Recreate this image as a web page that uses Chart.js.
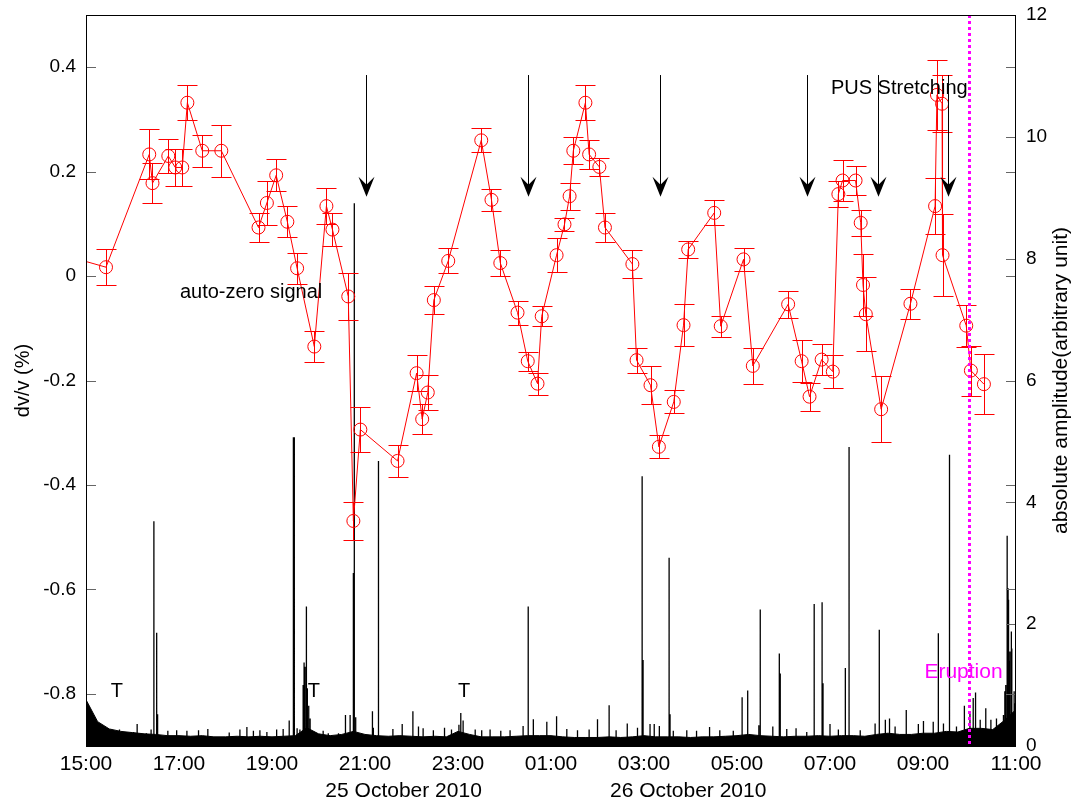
<!DOCTYPE html>
<html>
<head>
<meta charset="utf-8">
<script src="https://cdn.jsdelivr.net/npm/chart.js@4/dist/chart.umd.min.js"></script>
<style>
html, body { margin: 0; padding: 0; background: #fff; }
</style>
</head>
<body>
<canvas id="myChart" width="1080" height="803"></canvas>
<script>
// hours since 15:00 on 25 October 2010
var xTickValues = [0, 2, 4, 6, 8, 10, 12, 14, 16, 18, 20];
var xTickLabels = ['15:00', '17:00', '19:00', '21:00', '23:00', '01:00', '03:00', '05:00', '07:00', '09:00', '11:00'];
var dvTicks = [-0.8, -0.6, -0.4, -0.2, 0, 0.2, 0.4];
var ampTicks = [0, 2, 4, 6, 8, 10, 12];
var dateLabels = ['25 October 2010', '26 October 2010'];

// dv/v measurements (%)
var dvHours = [-0.40, 0.43, 1.36, 1.43, 1.77, 1.92, 2.07, 2.18, 2.50, 2.91, 3.71, 3.89, 4.09, 4.33, 4.54, 4.91,
    5.17, 5.30, 5.64, 5.75, 5.90, 6.70, 7.11, 7.23, 7.35, 7.48, 7.79, 8.50, 8.72, 8.91, 9.28, 9.50, 9.71, 9.80,
    10.12, 10.29, 10.40, 10.48, 10.74, 10.82, 11.04, 11.16, 11.75, 11.84, 12.14, 12.32, 12.64, 12.85, 12.95,
    13.51, 13.65, 14.14, 14.34, 15.10, 15.39, 15.56, 15.82, 16.06, 16.18, 16.27, 16.55, 16.66, 16.71, 16.77,
    17.10, 17.73, 18.26, 18.30, 18.41, 18.42, 18.93, 19.03, 19.31];
var dvValues = [0.038, 0.017, 0.233, 0.178, 0.230, 0.208, 0.208, 0.332, 0.240, 0.240, 0.093, 0.140, 0.193, 0.104, 0.015, -0.135,
    0.134, 0.089, -0.039, -0.469, -0.294, -0.354, -0.186, -0.274, -0.223, -0.046, 0.029, 0.260, 0.146, 0.025, -0.070, -0.163, -0.206, -0.077,
    0.040, 0.099, 0.153, 0.240, 0.332, 0.233, 0.209, 0.093, 0.023, -0.161, -0.209, -0.327, -0.241, -0.094, 0.051,
    0.121, -0.096, 0.032, -0.172, -0.054, -0.163, -0.231, -0.160, -0.183, 0.157, 0.183, 0.183, 0.102, -0.017, -0.073,
    -0.255, -0.053, 0.134, 0.347, 0.330, 0.040, -0.095, -0.181, -0.207];
var dvErrors = [0.030, 0.034, 0.048, 0.039, 0.032, 0.036, 0.036, 0.033, 0.031, 0.050, 0.027, 0.042, 0.031, 0.030, 0.030, 0.029,
    0.034, 0.031, 0.045, 0.037, 0.043, 0.031, 0.034, 0.029, 0.033, 0.027, 0.024, 0.023, 0.021, 0.024, 0.023, 0.018, 0.021, 0.019,
    0.033, 0.013, 0.026, 0.026, 0.033, 0.028, 0.018, 0.028, 0.026, 0.024, 0.036, 0.022, 0.022, 0.040, 0.017,
    0.024, 0.020, 0.022, 0.034, 0.026, 0.040, 0.027, 0.030, 0.032, 0.025, 0.040, 0.027, 0.025, 0.060, 0.071,
    0.063, 0.029, 0.054, 0.067, 0.055, 0.078, 0.040, 0.048, 0.058];

// absolute amplitude: noise floor every 15 minutes
var ampFloorHours = [0, 0.25, 0.5, 0.75, 1, 1.25, 1.5, 1.75, 2, 2.25, 2.5, 2.75, 3, 3.25, 3.5, 3.75, 4, 4.25, 4.5, 4.75,
    5, 5.25, 5.5, 5.75, 6, 6.25, 6.5, 6.75, 7, 7.25, 7.5, 7.75, 8, 8.25, 8.5, 8.75, 9, 9.25, 9.5, 9.75,
    10, 10.25, 10.5, 10.75, 11, 11.25, 11.5, 11.75, 12, 12.25, 12.5, 12.75, 13, 13.25, 13.5, 13.75, 14, 14.25, 14.5, 14.75,
    15, 15.25, 15.5, 15.75, 16, 16.25, 16.5, 16.75, 17, 17.25, 17.5, 17.75, 18, 18.25, 18.5, 18.75, 19, 19.25, 19.5, 19.75, 20];
var ampFloor = [0.76, 0.40, 0.28, 0.24, 0.22, 0.20, 0.19, 0.17, 0.17, 0.16, 0.17, 0.15, 0.15, 0.16, 0.15, 0.16, 0.15, 0.16, 0.17, 0.30,
    0.20, 0.17, 0.19, 0.24, 0.19, 0.17, 0.16, 0.17, 0.16, 0.15, 0.16, 0.15, 0.24, 0.19, 0.15, 0.15, 0.15, 0.16, 0.17, 0.17,
    0.17, 0.15, 0.14, 0.14, 0.14, 0.15, 0.14, 0.15, 0.17, 0.15, 0.15, 0.15, 0.14, 0.15, 0.15, 0.16, 0.17, 0.19, 0.17, 0.16,
    0.15, 0.16, 0.16, 0.17, 0.16, 0.17, 0.17, 0.16, 0.19, 0.21, 0.19, 0.19, 0.21, 0.21, 0.24, 0.23, 0.29, 0.29, 0.27, 0.42, 0.60];

// large amplitude spikes
var spikeHours = [1.10, 1.40, 1.46, 1.52, 1.54, 4.37, 4.46, 4.48, 4.54, 4.67, 4.69, 4.71, 4.74, 4.76, 4.79, 4.82,
    5.58, 5.68, 5.75, 5.77, 5.80, 6.16, 6.29, 6.80, 7.03, 8.02, 8.06, 8.11, 9.40, 9.51, 9.62, 9.91, 10.12,
    11.00, 11.25, 11.64, 11.96, 11.98, 12.22, 12.54, 12.56, 13.41, 14.11, 14.23, 14.50, 14.77, 14.91, 14.93,
    15.27, 15.66, 15.83, 15.85, 16.33, 16.41, 17.06, 17.19, 17.28, 17.64, 18.01, 18.33, 18.57, 18.89, 19.08, 19.13,
    19.35, 19.46, 19.73, 19.76, 19.78, 19.81, 19.83, 19.84, 19.86, 19.87, 19.90, 19.91, 19.94, 19.96, 19.98];
var spikeAmps = [0.36, 0.27, 3.69, 1.86, 0.52, 0.42, 5.07, 5.07, 0.29, 1.00, 1.37, 1.30, 2.29, 0.95, 0.66, 0.45,
    0.51, 0.51, 2.84, 8.91, 0.47, 0.57, 4.68, 0.36, 0.57, 0.35, 0.54, 0.42, 0.33, 2.29, 0.44, 0.40, 0.49,
    0.44, 0.67, 0.37, 4.43, 1.41, 0.36, 3.09, 0.52, 0.31, 0.80, 0.91, 2.24, 0.32, 1.52, 1.19,
    0.29, 2.33, 2.36, 1.03, 1.28, 4.91, 1.91, 0.43, 0.45, 0.59, 0.41, 1.85, 4.78, 0.66, 0.79, 0.88,
    0.62, 0.43, 0.51, 0.90, 1.00, 3.45, 2.59, 2.40, 1.40, 1.55, 1.88, 1.60, 0.54, 0.90, 0.70];

// small noise spikes
var noiseHours = [0.59, 0.72, 0.89, 1.02, 1.30, 1.76, 1.95, 2.17, 2.42, 2.62, 3.08, 3.31, 3.46, 3.60, 3.74, 3.89, 4.10, 4.24, 4.60,
    5.10, 5.21, 5.43, 6.18, 6.60, 7.15, 7.25, 7.47, 7.71, 7.86, 8.37, 8.51, 8.69, 8.92, 9.12,
    10.34, 10.57, 10.82, 11.40, 11.86, 12.13, 12.33, 12.63, 12.92, 13.13, 13.63, 13.92, 14.47, 15.07, 15.50,
    16.00, 16.18, 16.65, 16.97, 17.40, 17.90, 18.22, 18.44, 18.72, 19.01, 19.23, 19.58];
var noiseAmps = [0.26, 0.27, 0.21, 0.23, 0.21, 0.25, 0.26, 0.25, 0.26, 0.28, 0.22, 0.27, 0.31, 0.25, 0.26, 0.23, 0.27, 0.28, 0.27,
    0.25, 0.21, 0.21, 0.30, 0.28, 0.32, 0.29, 0.26, 0.30, 0.27, 0.27, 0.26, 0.27, 0.25, 0.26,
    0.28, 0.26, 0.27, 0.26, 0.30, 0.36, 0.33, 0.25, 0.26, 0.25, 0.26, 0.25, 0.34, 0.28, 0.23,
    0.36, 0.27, 0.26, 0.37, 0.32, 0.36, 0.40, 0.37, 0.32, 0.55, 0.43, 0.45];

// "PUS Stretching" arrows
var arrowHours = [6.02, 9.51, 12.35, 15.51, 17.03, 18.53];
var eruptionHour = 19.0;

// annotation layout (data coordinates)
var arrowTopDv = 0.385, arrowTipDv = 0.152;
var notes = [
    { text: 'PUS Stretching', h: 16.02, dv: 0.36, size: 20, color: '#000' },
    { text: 'auto-zero signal', h: 2.02, dv: -0.031, size: 20, color: '#000' }
];
var ampNotes = [
    { text: 'T', h: 0.53, amp: 0.90, size: 20, color: '#000' },
    { text: 'T', h: 4.77, amp: 0.90, size: 20, color: '#000' },
    { text: 'T', h: 8.00, amp: 0.90, size: 20, color: '#000' },
    { text: 'Eruption', h: 18.03, amp: 1.21, size: 21, color: '#ff00ff' }
];
var dateHours = [6.83, 12.95];

var FONT = '"Liberation Sans", Arial, sans-serif';

function points(xs, ys) {
    var out = [];
    for (var i = 0; i < xs.length; i++) out.push({ x: xs[i], y: ys[i] });
    return out;
}

// each spike is a vertical stroke from zero, separated by gaps
function spikeSegments(hours, amps) {
    var out = [];
    for (var i = 0; i < hours.length; i++) {
        out.push({ x: hours[i], y: 0 });
        out.push({ x: hours[i], y: amps[i] });
        out.push({ x: hours[i], y: null });
    }
    return out;
}

function fixedTicks(list) {
    return function (axis) {
        axis.ticks = list.map(function (v) { return { value: v }; });
    };
}

function noPadding(s) {
    s.paddingTop = 0; s.paddingBottom = 0; s.paddingLeft = 0; s.paddingRight = 0;
}

// error bars, arrows, eruption line
var extrasPlugin = {
    id: 'extras',
    afterDatasetsDraw: function (chart) {
        var ctx = chart.ctx, a = chart.chartArea;
        var xs = chart.scales.x, ys = chart.scales.y;
        ctx.save();
        ctx.beginPath();
        ctx.rect(a.left, a.top, a.right - a.left, a.bottom - a.top);
        ctx.clip();

        ctx.strokeStyle = '#ff0000';
        ctx.lineWidth = 1;
        for (var i = 0; i < dvHours.length; i++) {
            var x = Math.round(xs.getPixelForValue(dvHours[i])) + 0.5;
            var y1 = Math.round(ys.getPixelForValue(dvValues[i] + dvErrors[i])) + 0.5;
            var y2 = Math.round(ys.getPixelForValue(dvValues[i] - dvErrors[i])) + 0.5;
            ctx.beginPath();
            ctx.moveTo(x, y1); ctx.lineTo(x, y2);
            ctx.moveTo(x - 10, y1); ctx.lineTo(x + 10, y1);
            ctx.moveTo(x - 10, y2); ctx.lineTo(x + 10, y2);
            ctx.stroke();
        }

        // arrows
        ctx.strokeStyle = '#000';
        ctx.fillStyle = '#000';
        for (var j = 0; j < arrowHours.length; j++) {
            var ax = Math.round(xs.getPixelForValue(arrowHours[j])) + 0.5;
            var top = ys.getPixelForValue(arrowTopDv);
            var tip = ys.getPixelForValue(arrowTipDv);
            ctx.beginPath();
            ctx.moveTo(ax, top); ctx.lineTo(ax, tip - 6);
            ctx.stroke();
            ctx.beginPath();
            ctx.moveTo(ax, tip);
            ctx.lineTo(ax - 8, tip - 20);
            ctx.lineTo(ax, tip - 12);
            ctx.lineTo(ax + 8, tip - 20);
            ctx.closePath();
            ctx.fill();
        }

        // eruption
        var ex = xs.getPixelForValue(eruptionHour);
        ctx.strokeStyle = '#ff00ff';
        ctx.lineWidth = 3;
        ctx.setLineDash([3, 3]);
        ctx.beginPath();
        ctx.moveTo(ex, a.top); ctx.lineTo(ex, a.bottom);
        ctx.stroke();
        ctx.restore();
    },
    afterDraw: function (chart) {
        var ctx = chart.ctx, a = chart.chartArea;
        var xs = chart.scales.x, ys = chart.scales.y, y2s = chart.scales.y2;
        ctx.save();

        // inward ticks
        ctx.strokeStyle = '#666';
        ctx.lineWidth = 1;
        dvTicks.forEach(function (v) {
            var y = Math.round(ys.getPixelForValue(v)) + 0.5;
            ctx.beginPath();
            ctx.moveTo(a.left, y); ctx.lineTo(a.left + 10, y);
            ctx.moveTo(a.right, y); ctx.lineTo(a.right - 10, y);
            ctx.stroke();
        });
        ampTicks.forEach(function (v) {
            var y = Math.round(y2s.getPixelForValue(v)) + 0.5;
            ctx.beginPath();
            ctx.moveTo(a.right, y); ctx.lineTo(a.right - 10, y);
            ctx.stroke();
        });

        // box
        ctx.strokeStyle = '#000';
        ctx.strokeRect(a.left + 0.5, a.top + 0.5, a.right - a.left - 1, a.bottom - a.top);

        // notes
        ctx.textBaseline = 'middle';
        ctx.textAlign = 'left';
        notes.forEach(function (n) {
            ctx.font = n.size + 'px ' + FONT;
            ctx.fillStyle = n.color;
            ctx.fillText(n.text, xs.getPixelForValue(n.h), ys.getPixelForValue(n.dv));
        });
        ampNotes.forEach(function (n) {
            ctx.font = n.size + 'px ' + FONT;
            ctx.fillStyle = n.color;
            ctx.fillText(n.text, xs.getPixelForValue(n.h), y2s.getPixelForValue(n.amp));
        });

        // dates under the time axis
        ctx.fillStyle = '#000';
        ctx.font = '21px ' + FONT;
        ctx.textAlign = 'center';
        ctx.textBaseline = 'alphabetic';
        for (var i = 0; i < dateLabels.length; i++) {
            ctx.fillText(dateLabels[i], xs.getPixelForValue(dateHours[i]), 797);
        }

        // axis titles
        var midY = (a.top + a.bottom) / 2;
        ctx.font = '20px ' + FONT;
        ctx.save();
        ctx.translate(29, midY);
        ctx.rotate(-Math.PI / 2);
        ctx.fillText('dv/v (%)', 0, 0);
        ctx.restore();
        ctx.font = '21px ' + FONT;
        ctx.save();
        ctx.translate(1067, midY);
        ctx.rotate(-Math.PI / 2);
        ctx.fillText('absolute amplitude(arbitrary unit)', 0, 0);
        ctx.restore();

        ctx.restore();
    }
};

var ctx = document.getElementById('myChart');
var myChart = new Chart(ctx, {
    type: 'line',
    data: {
        datasets: [{
            label: 'dv/v',
            data: points(dvHours, dvValues),
            yAxisID: 'y',
            borderColor: '#ff0000',
            borderWidth: 1,
            pointStyle: 'circle',
            pointRadius: 6.5,
            pointBorderColor: '#ff0000',
            pointBackgroundColor: 'rgba(0,0,0,0)',
            pointBorderWidth: 1,
            fill: false,
            tension: 0,
            order: 0
        }, {
            label: 'spikes',
            data: spikeSegments(spikeHours, spikeAmps).concat(spikeSegments(noiseHours, noiseAmps)),
            yAxisID: 'y2',
            borderColor: '#000',
            borderWidth: 1.3,
            pointRadius: 0,
            spanGaps: false,
            fill: false,
            order: 1
        }, {
            label: 'amplitude',
            data: points(ampFloorHours, ampFloor),
            yAxisID: 'y2',
            borderColor: '#000',
            backgroundColor: '#000',
            borderWidth: 1,
            pointRadius: 0,
            fill: 'origin',
            tension: 0,
            order: 2
        }]
    },
    options: {
        responsive: false,
        animation: false,
        layout: { padding: { top: 15, left: 0, right: 0, bottom: 0 } },
        plugins: {
            legend: { display: false },
            tooltip: { enabled: false }
        },
        scales: {
            x: {
                type: 'linear',
                min: 0,
                max: 20,
                afterBuildTicks: fixedTicks(xTickValues),
                afterFit: function (s) { s.height = 57; noPadding(s); },
                grid: { display: false, drawTicks: false },
                border: { display: false },
                ticks: {
                    autoSkip: false,
                    maxRotation: 0,
                    padding: 6,
                    color: '#000',
                    font: { size: 21, family: FONT },
                    callback: function (v, i) { return xTickLabels[i]; }
                }
            },
            y: {
                position: 'left',
                min: -0.9,
                max: 0.5,
                afterBuildTicks: fixedTicks(dvTicks),
                afterFit: function (s) { s.width = 86; noPadding(s); },
                grid: { display: false, drawTicks: false },
                border: { display: false },
                ticks: {
                    padding: 10,
                    color: '#000',
                    font: { size: 19, family: FONT },
                    callback: function (v) { return String(Math.round(v * 10) / 10); }
                }
            },
            y2: {
                position: 'right',
                min: 0,
                max: 12,
                afterBuildTicks: fixedTicks(ampTicks),
                afterFit: function (s) { s.width = 64; noPadding(s); },
                grid: { display: false, drawTicks: false },
                border: { display: false },
                ticks: {
                    padding: 10,
                    color: '#000',
                    font: { size: 19, family: FONT }
                }
            }
        }
    },
    plugins: [extrasPlugin]
});
</script>
</body>
</html>
